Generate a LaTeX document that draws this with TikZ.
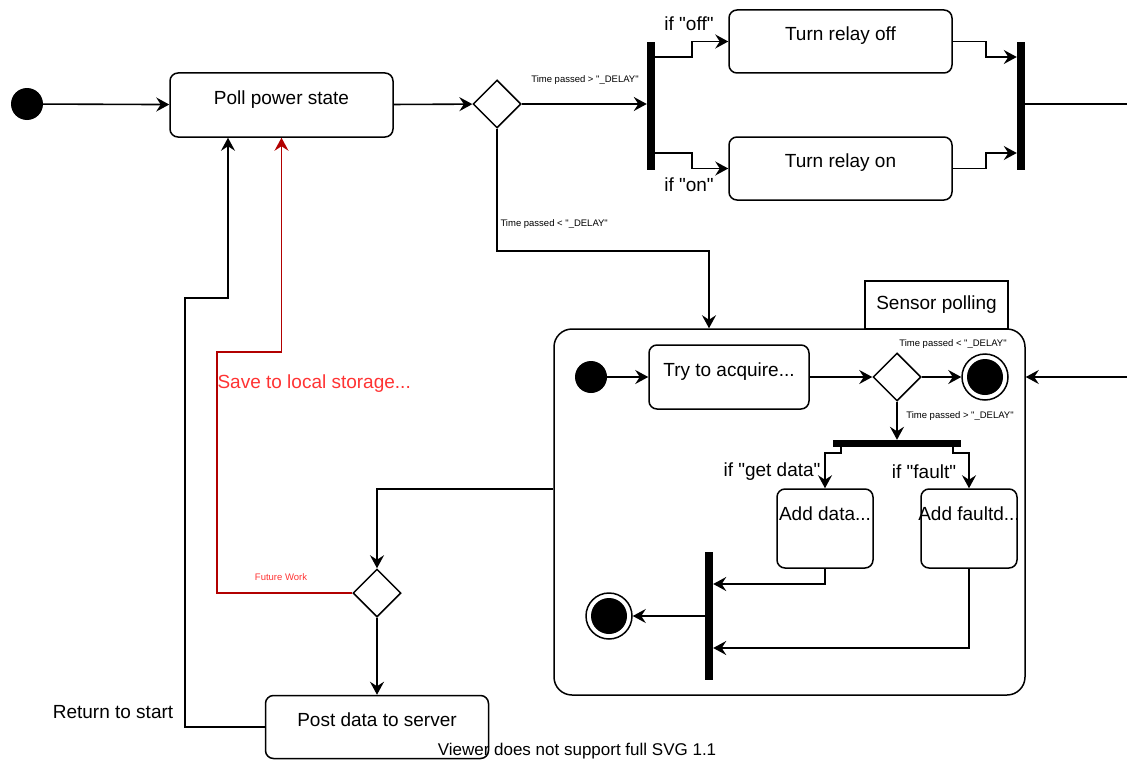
\documentclass[tikz,border=0pt]{standalone}
\usepackage{fontspec}
\setmainfont{Liberation Sans}
\newfontfamily\plainsans{Liberation Sans}
\usepackage{tikz}
\usepackage{xcolor}
\usetikzlibrary{positioning,arrows.meta,shapes.geometric,calc}

\definecolor{futureline}{HTML}{B20000}
\definecolor{futuretext}{HTML}{FF3333}

\begin{document}
\begin{tikzpicture}[
          x=1pt, y=-1pt,
          every node/.style={font=\plainsans\fontsize{19}{22}\selectfont},
          lbl/.style={font=\plainsans\fontsize{9.5}{11}\selectfont},
          act/.style={draw, rounded corners=8pt, line width=1.5pt, inner sep=0pt,
                      text height=14pt, text depth=16pt},
          dec/.style={draw, diamond, line width=1.5pt, minimum size=48pt, inner sep=0pt},
          startdot/.style={circle, fill=black, minimum size=32pt, inner sep=0pt},
          fin/.style={circle, draw, line width=1.5pt, minimum size=46pt, inner sep=0pt,
                      path picture={\fill (path picture bounding box.center) circle (18pt);}},
          syncbar/.style={fill=black, inner sep=0pt},
          arr/.style={-{Stealth[length=13pt, width=14pt, inset=4.5pt]}, line width=1.6pt},
          wire/.style={line width=1.6pt}
      ]
        \useasboundingbox (0,0) rectangle (1127,760);

        \node[startdot] (start) at (27,104) {};
        \node[act, minimum width=223pt, minimum height=64pt] (poll) at (281.5,105) {Poll power state};
        \node[dec] (d1) at (497,104) {};
        \node[syncbar, minimum width=8pt, minimum height=128pt] (fork1) at (651,106) {};
        \node[act, minimum width=223pt, minimum height=63pt] (off) at (840.5,41.5) {Turn relay off};
        \node[act, minimum width=223pt, minimum height=63pt] (on) at (840.5,168.5) {Turn relay on};
        \node[syncbar, minimum width=8pt, minimum height=128pt] (join2) at (1021,106) {};
        \coordinate (rout) at (1127,104);

        \node[lbl] (gtlbl) at (585,80) {Time passed > "\_DELAY"};
        \node (ifoff) at (689,24) {if "off"};
        \node (ifon) at (689,185) {if "on"};
        \node[lbl, anchor=west] (ltlbl) at (497,224) {Time passed < "\_DELAY"};

        \draw[arr] (start) -- (poll);
        \draw[arr] (poll) -- (d1);
        \draw[arr] (d1) -- (d1 -| fork1.west);
        \draw[arr] ([yshift=49pt]fork1.east) -- ++(37,0) |- (off.west);
        \draw[arr] ([yshift=-47pt]fork1.east) -- ++(37,0) |- (on.west);
        \draw[arr] (off.east) -- ++(33,0) |- ([yshift=49pt]join2.west);
        \draw[arr] (on.east) -- ++(33,0) |- ([yshift=-47pt]join2.west);
        \draw[wire] (rout -| join2.east) -- (rout);

        % sensor polling
        \node[draw, rounded corners=18pt, line width=1.5pt, minimum width=471pt, minimum height=366pt] (sensor) at (789.5,512) {};
        \node[draw, line width=1.5pt, minimum width=143pt, minimum height=48pt, inner sep=0pt] (tab) at (936.5,305) {Sensor polling};
        \draw[arr] (d1.south) -- ++(0,122) -| ([xshift=-80.5pt]sensor.north);

        \node[startdot] (istart) at (591,377) {};
        \node[act, minimum width=160pt, minimum height=64pt] (acquire) at (729,377) {Try to acquire...};
        \node[dec] (d2) at (897,377) {};
        \node[fin] (iend) at (985,377) {};
        \coordinate (rin) at (1127,377);
        \node[syncbar, minimum width=128pt, minimum height=7pt] (fork3) at (897,443.5) {};
        \node[act, minimum width=96pt, minimum height=79pt, text depth=30pt] (adddata) at (825,528.5) {Add data...};
        \node[act, minimum width=96pt, minimum height=79pt, text depth=30pt, inner xsep=-3pt] (addfault) at (969,528.5) {Add faultd...};
        \node[syncbar, minimum width=8pt, minimum height=128pt] (join3) at (709,616) {};
        \node[fin] (iend2) at (609,616) {};

        \node[lbl] (inlt) at (953,344) {Time passed < "\_DELAY"};
        \node[lbl] (ingt) at (960,416) {Time passed > "\_DELAY"};
        \node[anchor=east] (ifget) at (824,472) {if "get data"};
        \node (iffault) at (924,472) {if "fault"};

        \draw[arr] (istart) -- (acquire);
        \draw[arr] (acquire) -- (d2);
        \draw[arr] (d2) -- (iend);
        \draw[arr] (rin) -- (rin -| sensor.east);
        \draw[arr] (d2.south) -- (fork3.north);
        \draw[arr] ([xshift=-56pt]fork3.south) -- ++(0,6) -| (adddata.north);
        \draw[arr] ([xshift=56pt]fork3.south) -- ++(0,6) -| (addfault.north);
        \draw[arr] (adddata.south) |- ([yshift=32pt]join3.east);
        \draw[arr] (addfault.south) |- ([yshift=-32pt]join3.east);
        \draw[arr] (join3.west) -- (iend2);

        % posting
        \node[dec] (d3) at (377,593) {};
        \node[act, minimum width=223pt, minimum height=63pt] (post) at (377,727) {Post data to server};
        \node[lbl, text=futuretext] (future) at (281,577) {Future Work};
        \node[anchor=west, text=futuretext] (save) at (214,384) {Save to local storage...};
        \node (ret) at (113,712) {Return to start};

        \draw[arr] ([yshift=23pt]sensor.west) -| (d3.north);
        \draw[arr] (d3.south) -- (post.north);
        \draw[arr, futureline] (d3.west) -- ++(-135,0) -- ++(0,-241) -| (poll.south);
        \draw[arr] (post.west) -- ++(-80,0) |- ([xshift=-53.5pt,yshift=-160pt]poll.south) -- ([xshift=-53.5pt]poll.south);

        \node[font=\plainsans\fontsize{17}{20}\selectfont] (viewer) at (577,751) {Viewer does not support full SVG 1.1};
      \end{tikzpicture}
\end{document}
